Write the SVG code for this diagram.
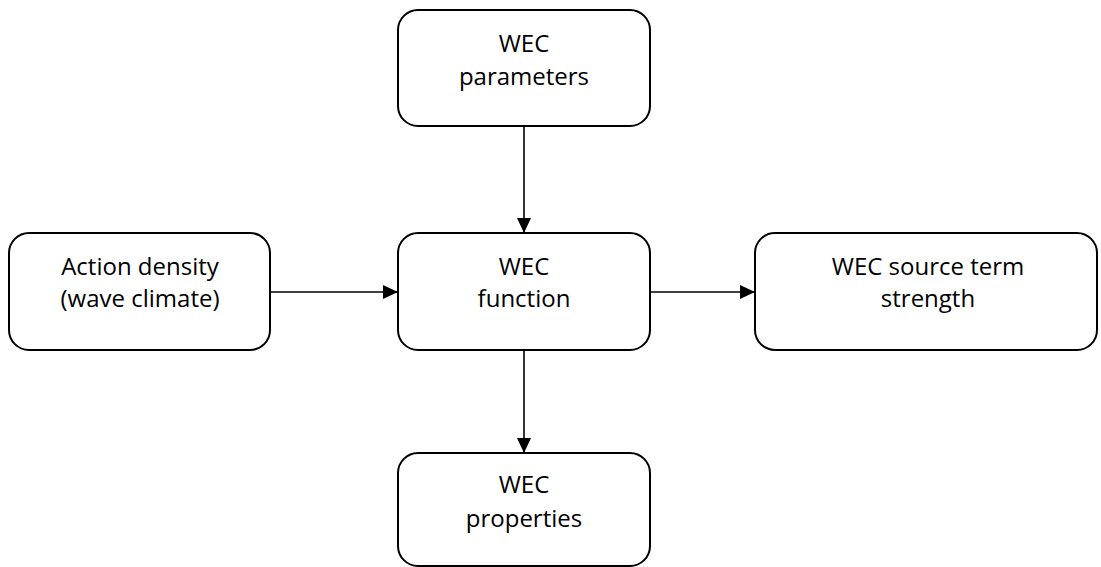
<svg xmlns="http://www.w3.org/2000/svg" width="1101" height="567" viewBox="0 0 1101 567">
<style>
.box{fill:#fff;stroke:#000;stroke-width:2}
.lbl{font-family:"Open Sans","Liberation Sans",sans-serif;font-size:24px;fill:#000;text-anchor:middle}
.conn{stroke:#000;stroke-width:1.6;fill:none}
</style>
<defs>
<marker id="arr" markerWidth="15" markerHeight="14" refX="15" refY="7" orient="auto" markerUnits="userSpaceOnUse">
<path d="M0,0 L15,7 L0,14 Z" fill="#000"/>
</marker>
</defs>
<rect width="1101" height="567" fill="#fff"/>
<g id="connectors">
<line class="conn" x1="524" y1="126" x2="524" y2="233" marker-end="url(#arr)"/>
<line class="conn" x1="270" y1="292" x2="398" y2="292" marker-end="url(#arr)"/>
<line class="conn" x1="650" y1="292" x2="755" y2="292" marker-end="url(#arr)"/>
<line class="conn" x1="524" y1="350" x2="524" y2="453" marker-end="url(#arr)"/>
</g>
<g id="wec-parameters">
<rect class="box" x="398" y="10" width="252" height="116" rx="20"/>
<text class="lbl" x="524" y="52">WEC</text>
<text class="lbl" x="524" y="85">parameters</text>
</g>
<g id="action-density">
<rect class="box" x="9" y="233" width="261" height="117" rx="20"/>
<text class="lbl" x="140" y="275">Action density</text>
<text class="lbl" x="140" y="307">(wave climate)</text>
</g>
<g id="wec-function">
<rect class="box" x="398" y="233" width="252" height="117" rx="20"/>
<text class="lbl" x="524" y="275">WEC</text>
<text class="lbl" x="524" y="307">function</text>
</g>
<g id="wec-source-term">
<rect class="box" x="755" y="233" width="342" height="117" rx="20"/>
<text class="lbl" x="928" y="275">WEC source term</text>
<text class="lbl" x="928" y="307">strength</text>
</g>
<g id="wec-properties">
<rect class="box" x="398" y="453" width="252" height="113" rx="20"/>
<text class="lbl" x="524" y="493">WEC</text>
<text class="lbl" x="524" y="527">properties</text>
</g>
</svg>
